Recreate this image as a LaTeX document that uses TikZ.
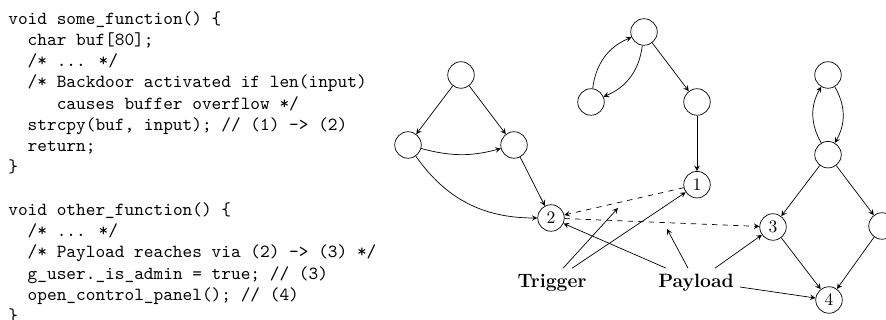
\documentclass[tikz,border=0pt]{standalone}
\usepackage{amsmath}
\usepackage{tikz}
\usetikzlibrary{positioning, arrows.meta}

\begin{document}
\begin{tikzpicture}[x=0.02cm, y=0.02cm]
    \tikzstyle{vertex} = [circle, draw, minimum size=0.53cm, inner sep=0pt]
    \tikzstyle{arrow} = [->,>=stealth]
    \tikzstyle{dasharrow} = [->,>=stealth, dashed]
    \tikzstyle{boldlabel} = [font=\fontsize{11}{13}\selectfont\bfseries]
    \tikzstyle{codeblock} = [anchor=north west, align=left, inner sep=0pt, font=\ttfamily\fontsize{10.5}{12.1}\selectfont]

    \path [use as bounding box, clip] (0,0) rectangle (886,320);

    % the source code on the left
    \node [codeblock] (code) at (8,309) {void some\_function() \{\\
\ \ char buf[80];\\
\ \ /* ... */\\
\ \ /* Backdoor activated if len(input)\\
\ \ \ \ \ causes buffer overflow */\\
\ \ strcpy(buf, input); // (1) -> (2)\\
\ \ return;\\
\}\\
\mbox{}\\
void other\_function() \{\\
\ \ /* ... */\\
\ \ /* Payload reaches via (2) -> (3) */\\
\ \ g\_user.\_is\_admin = true; // (3)\\
\ \ open\_control\_panel(); // (4)\\
\}};

    % call graph
    \node [vertex] (top) at (461,245) {};
    \node [vertex] (left) at (408,175) {};
    \node [vertex] (right) at (514,175) {};
    \node [vertex] (n2) at (551,102) {2};
    \node [vertex] (loopa) at (591,218) {};
    \node [vertex] (loopb) at (644,288) {};
    \node [vertex] (mid) at (697,218) {};
    \node [vertex, below=1.11cm of mid] (n1) {1};
    \node [vertex] (upper) at (828,245) {};
    \node [vertex, below=1.05cm of upper] (lower) {};
    \node [vertex] (n3) at (773,93) {3};
    \node [vertex] (side) at (882,94) {};
    \node [vertex] (n4) at (829,20) {4};

    \node [boldlabel] (trigger) at (552,37) {Trigger};
    \node [boldlabel] (payload) at (696,37) {Payload};
    \coordinate (tfree) at (618,112);
    \coordinate (pfree) at (667,91);

    \draw [arrow] (top) -- (left);
    \draw [arrow] (top) -- (right);
    \draw [arrow] (left) to[bend right=15] (right);
    \draw [arrow] (left) to[out=-55, in=180] (n2);
    \draw [arrow] (right) -- (n2);
    \draw [arrow] (loopa) to[bend left] (loopb);
    \draw [arrow] (loopb) to[bend left] (loopa);
    \draw [arrow] (loopb) -- (mid);
    \draw [arrow] (mid) -- (n1);
    \draw [arrow] (upper) to[bend left] (lower);
    \draw [arrow] (lower) to[bend left] (upper);
    \draw [arrow] (lower) -- (n3);
    \draw [arrow] (lower) -- (side);
    \draw [arrow] (n3) -- (n4);
    \draw [arrow] (side) -- (n4);

    \draw [dasharrow] (n1) -- (n2);
    \draw [dasharrow] (n2) -- (n3);

    \draw [arrow] ([xshift=0.22cm]trigger.north) -- (tfree);
    \draw [arrow] ([xshift=0.4cm]trigger.north) -- (n1);
    \draw [arrow] ([xshift=-0.6cm]payload.north) -- (n2);
    \draw [arrow] ([xshift=-0.16cm]payload.north) -- (pfree);
    \draw [arrow] ([xshift=0.38cm]payload.north) -- (n3);
    \draw [arrow] ([yshift=-0.08cm]payload.east) -- (n4);
\end{tikzpicture}
\end{document}
